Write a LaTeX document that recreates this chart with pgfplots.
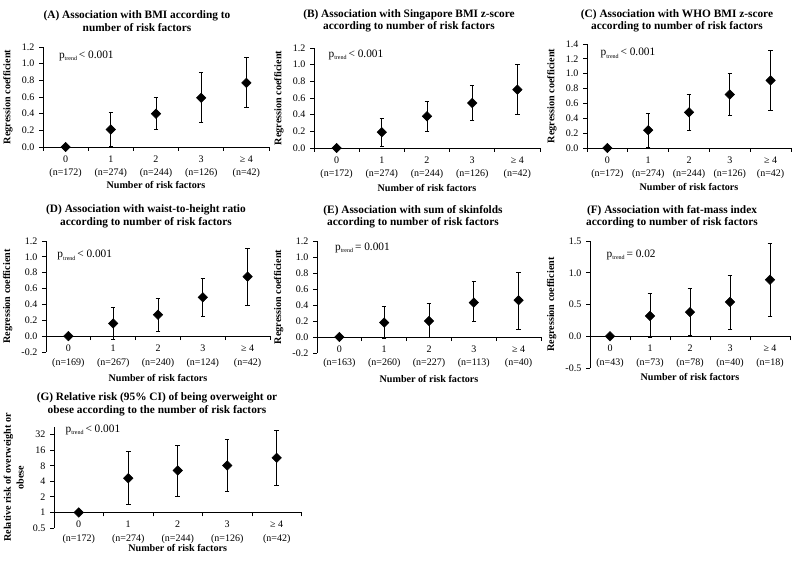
\documentclass[border=0pt]{standalone}
\usepackage{pgfplots}
\pgfplotsset{compat=1.18}
\usepackage{pgfplotstable}
\usepackage{fontspec}
\setmainfont{Liberation Serif}

\newcommand\tickfont{\fontsize{7.5}{10.2}\selectfont}
\newcommand\labfont{\bfseries\fontsize{7.6}{9.5}\selectfont}
\newcommand\titfont{\bfseries\fontsize{8.5}{9.4}\selectfont}
\newcommand\pfont{\fontsize{8.5}{10}\selectfont}
\newcommand\ptrend[1]{p\raisebox{-0.45ex}{\fontsize{4.5}{5}\selectfont trend}\,#1}

\pgfplotstableread{
x y lo hi
0 0 0 0
1 0.21 0.01 0.41
2 0.40 0.21 0.60
3 0.59 0.29 0.89
4 0.77 0.47 1.07
}\dataA
\pgfplotstableread{
x y lo hi
0 0 0 0
1 0.19 0.02 0.36
2 0.38 0.20 0.56
3 0.54 0.33 0.75
4 0.70 0.40 1.00
}\dataB
\pgfplotstableread{
x y lo hi
0 0 0 0
1 0.24 0.01 0.47
2 0.48 0.24 0.72
3 0.72 0.44 1.00
4 0.91 0.50 1.32
}\dataC
\pgfplotstableread{
x y lo hi
0 0 0 0
1 0.16 -0.04 0.36
2 0.27 0.06 0.48
3 0.49 0.25 0.73
4 0.75 0.39 1.11
}\dataD
\pgfplotstableread{
x y lo hi
0 0 0 0
1 0.18 -0.02 0.38
2 0.20 -0.01 0.42
3 0.43 0.19 0.69
4 0.46 0.10 0.81
}\dataE
\pgfplotstableread{
x y lo hi
0 0 0 0
1 0.32 -0.02 0.67
2 0.38 0.01 0.75
3 0.54 0.11 0.96
4 0.89 0.32 1.46
}\dataF
\pgfplotstableread{
x y lo hi
0 1 1 1
1 4.6 1.4 15
2 6.5 2.05 20
3 8.1 2.5 26
4 11.4 3.3 38
}\dataG

\pgfplotsset{
  panel/.style={
    scale only axis, clip=false,
    axis x line=middle, axis y line=left,
    axis line style={-, line width=0.6pt, black},
    hide obscured x ticks=false, hide obscured y ticks=false,
    xmin=-0.5, xmax=4.5, xtick={0,1,2,3,4},
    minor xtick={-0.5,0.5,1.5,2.5,3.5,4.5},
    major x tick style={draw=none},
    tick align=outside, major tick length=3pt, minor tick length=3pt,
    every tick/.style={black, line width=0.6pt},
    tick label style={font=\tickfont},
    xticklabel style={align=center},
    /pgf/number format/assume math mode=true,
    yticklabel style={/pgf/number format/.cd, fixed, fixed zerofill, precision=1},
    ylabel={Regression coefficient}, ylabel style={font=\labfont},
    xlabel={Number of risk factors},
    xlabel style={font=\labfont, at={(axis description cs:0.5,0)}, anchor=center},
  },
  dots/.style={only marks, black, mark=square*, mark size=2.5pt,
    mark options={rotate=45, fill=black},
    error bars/.cd, y dir=both, y explicit,
    error bar style={line width=0.6pt, black},
    error mark options={rotate=90, mark size=1.7pt, line width=0.6pt, black}},
}
\newcommand\plotdata[1]{\addplot[dots] table[x=x, y=y,
  y error plus expr=\thisrow{hi}-\thisrow{y},
  y error minus expr=\thisrow{y}-\thisrow{lo}] {#1};}

\begin{document}
\begin{tikzpicture}
\path[use as bounding box] (0,0) rectangle (600pt,-427.5pt);

% (A)
\begin{axis}[panel, at={(32.25pt,-110.25pt)}, anchor=south west,
  width=169.5pt, height=75pt, ymin=0, ymax=1.2,
  ytick={0,0.2,0.4,0.6,0.8,1.0,1.2},
  xticklabels={{0\\(n=172)},{1\\(n=274)},{2\\(n=244)},{3\\(n=126)},{≥ 4\\(n=42)}},
  xlabel style={yshift=-28.5pt}]
\plotdata{\dataA}
\node[anchor=west, font=\pfont] at (axis description cs:0.05,0.91) {\ptrend{< 0.001}};
\end{axis}

% (B)
\begin{axis}[panel, at={(235.5pt,-111pt)}, anchor=south west,
  width=169.5pt, height=75pt, ymin=0, ymax=1.2,
  ytick={0,0.2,0.4,0.6,0.8,1.0,1.2},
  xticklabels={{0\\(n=172)},{1\\(n=274)},{2\\(n=244)},{3\\(n=126)},{≥ 4\\(n=42)}},
  xlabel style={yshift=-30pt}]
\plotdata{\dataB}
\node[anchor=west, font=\pfont] at (axis description cs:0.044,0.93) {\ptrend{< 0.001}};
\end{axis}

% (C)
\begin{axis}[panel, at={(440.25pt,-111pt)}, anchor=south west,
  width=153pt, height=78pt, ymin=0, ymax=1.4,
  ytick={0,0.2,0.4,0.6,0.8,1.0,1.2,1.4},
  xticklabels={{0\\(n=172)},{1\\(n=274)},{2\\(n=244)},{3\\(n=126)},{≥ 4\\(n=42)}},
  xlabel style={yshift=-29.5pt}]
\plotdata{\dataC}
\node[anchor=west, font=\pfont] at (axis description cs:0.044,0.91) {\ptrend{< 0.001}};
\end{axis}

% (D)
\begin{axis}[panel, at={(34.5pt,-264pt)}, anchor=south west,
  width=168pt, height=83.25pt, ymin=-0.2, ymax=1.2,
  ytick={-0.2,0,0.2,0.4,0.6,0.8,1.0,1.2},
  xticklabels={{0\\(n=169)},{1\\(n=267)},{2\\(n=240)},{3\\(n=124)},{≥ 4\\(n=42)}},
  xlabel style={yshift=-19.5pt}]
\plotdata{\dataD}
\node[anchor=west, font=\pfont] at (axis description cs:0.03,0.87) {\ptrend{< 0.001}};
\end{axis}

% (E)
\begin{axis}[panel, at={(237.75pt,-264.75pt)}, anchor=south west,
  width=168pt, height=84pt, ymin=-0.2, ymax=1.2,
  ytick={-0.2,0,0.2,0.4,0.6,0.8,1.0,1.2},
  xticklabels={{0\\(n=163)},{1\\(n=260)},{2\\(n=227)},{3\\(n=113)},{≥ 4\\(n=40)}},
  xlabel style={yshift=-19.5pt}]
\plotdata{\dataE}
\node[anchor=west, font=\pfont] at (axis description cs:0.06,0.94) {\ptrend{= 0.001}};
\end{axis}

% (F)
\begin{axis}[panel, at={(442.5pt,-276pt)}, anchor=south west,
  width=150pt, height=95.25pt, ymin=-0.5, ymax=1.5,
  ytick={-0.5,0,0.5,1.0,1.5},
  xticklabels={{0\\(n=43)},{1\\(n=73)},{2\\(n=78)},{3\\(n=40)},{≥ 4\\(n=18)}},
  xlabel style={yshift=-6.75pt}]
\plotdata{\dataF}
\node[anchor=west, font=\pfont] at (axis description cs:0.06,0.89) {\ptrend{= 0.02}};
\end{axis}

% (G)
\begin{axis}[panel, at={(40.5pt,-396pt)}, anchor=south west,
  width=185.6pt, height=75.75pt, ymode=log, log basis y=2,
  ymin=0.5, ymax=45,
  ytick={0.5,1,2,4,8,16,32}, yticklabels={0.5,1,2,4,8,16,32},
  ylabel={Relative risk of overweight or\\obese}, ylabel style={align=center},
  xticklabels={{0\\(n=172)},{1\\(n=274)},{2\\(n=244)},{3\\(n=126)},{≥ 4\\(n=42)}},
  xlabel style={yshift=-15pt}]
\plotdata{\dataG}
\node[anchor=west, font=\pfont] at (axis description cs:0.028,0.97) {\ptrend{< 0.001}};
\end{axis}

\node[align=center, font=\titfont] at (102.75pt,-15.75pt) {(A) Association with BMI according to\\number of risk factors};
\node[align=center, font=\titfont] at (306.75pt,-15.75pt) {(B) Association with Singapore BMI z-score\\according to number of risk factors};
\node[align=center, font=\titfont] at (507.75pt,-15.75pt) {(C) Association with WHO BMI z-score\\according to number of risk factors};
\node[align=center, font=\titfont] at (109.5pt,-162.4pt) {(D) Association with waist-to-height ratio\\according to number of risk factors};
\node[align=center, font=\titfont] at (309.75pt,-162.4pt) {(E) Association with sum of skinfolds\\according to number of risk factors};
\node[align=center, font=\titfont] at (504pt,-162.4pt) {(F) Association with fat-mass index\\according to number of risk factors};
\node[align=center, font=\titfont] at (117.75pt,-303pt) {(G) Relative risk (95\% CI) of being overweight or\\obese according to the number of risk factors};
\end{tikzpicture}
\end{document}
